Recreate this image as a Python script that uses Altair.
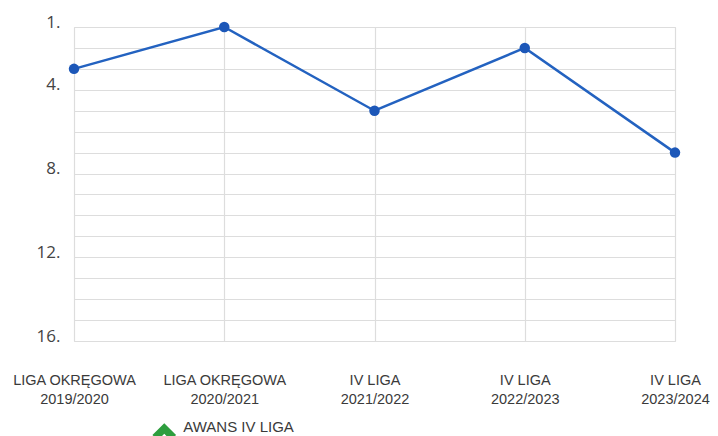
import altair as alt
import pandas as pd

seasons = ["2019/2020", "2020/2021", "2021/2022", "2022/2023", "2023/2024"]
leagues = ["LIGA OKRĘGOWA", "LIGA OKRĘGOWA", "IV LIGA", "IV LIGA", "IV LIGA"]
positions = [3, 1, 5, 2, 7]
label_ticks = [1, 4, 8, 12, 16]
legend_text = ["AWANS IV LIGA"]
legend_season = ["2020/2021"]

df = pd.DataFrame({
    "season": seasons,
    "label": [f"{l}|{s}" for l, s in zip(leagues, seasons)],
    "pos": positions,
})
leg = pd.DataFrame({"label": [f"{leagues[1]}|{legend_season[0]}"], "text": legend_text})

FONT = "Open Sans"
XFONT = "Liberation Sans"
label_order = list(df["label"])

x_enc = alt.X(
    "label:N",
    sort=label_order,
    scale=alt.Scale(type="point", padding=0),
    axis=alt.Axis(
        title=None,
        labelExpr="split(datum.label, '|')",
        labelAngle=0,
        labelFont=XFONT,
        labelFontSize=14.5,
        labelColor="#3a3a3a",
        labelLineHeight=19,
        labelPadding=32,
        ticks=False,
        domain=False,
        grid=True,
        gridColor="#dddddd",
        gridWidth=1.2,
    ),
)

y_enc = alt.Y(
    "pos:Q",
    scale=alt.Scale(domain=[1, 16], reverse=True, nice=False, zero=False),
    axis=alt.Axis(
        title=None,
        values=list(range(1, 17)),
        labelExpr="indexof([" + ",".join(str(v) for v in label_ticks) + "], datum.value) >= 0 ? datum.value + '.' : ''",
        labelFont=FONT,
        labelFontSize=17,
        labelColor="#444444",
        labelOffset=-5,
        labelPadding=14,
        ticks=False,
        domain=False,
        grid=True,
        gridColor="#dddddd",
        gridWidth=1.2,
    ),
)

line = alt.Chart(df).mark_line(color="#2362c0", strokeWidth=2.5).encode(x=x_enc, y=y_enc)
points = alt.Chart(df).mark_point(filled=True, color="#1c57b8", size=110, opacity=1).encode(x=x_enc, y=y_enc)

chevron = "M0,-0.75 L1,0.25 L0.55,0.7 L0,0.15 L-0.55,0.7 L-1,0.25 Z"
icon = alt.Chart(leg).mark_point(
    shape=chevron, filled=True, color="#2e9e3e", size=560, opacity=1
).encode(
    x=x_enc,
    xOffset=alt.value(-60),
    y=alt.value(405),
)
text = alt.Chart(leg).mark_text(
    font=XFONT, fontSize=15, color="#3a3a3a", align="left", baseline="alphabetic", dx=-41
).encode(
    x=x_enc,
    y=alt.value(405),
    text="text:N",
)

chart = alt.layer(line, points, icon, text).properties(
    width=601,
    height=314,
    autosize=alt.AutoSizeParams(type="none"),
    padding={"left": 66, "top": 19, "right": 35, "bottom": 95},
).configure_view(stroke=None).configure(background="white")

chart.save("out.html", embed_options={"renderer": "svg", "actions": False})
